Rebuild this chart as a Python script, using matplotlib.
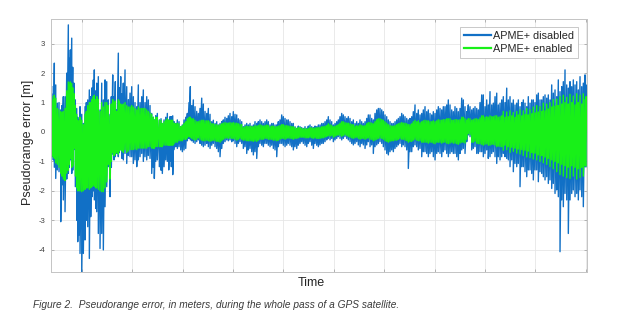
import numpy as np
import matplotlib
matplotlib.use("Agg")
import matplotlib.pyplot as plt

plt.rcParams['font.family'] = ['Liberation Sans', 'DejaVu Sans']
plt.rcParams['axes.unicode_minus'] = False

# time (epochs) and per-epoch upper / lower excursions of the error traces [m]
t = [1.2, 2.8, 3.8, 5.2, 6.8, 8.5, 10.2, 11.5, 12.8, 14.5,
     16.2, 17.8, 18.8, 19.8, 21.2, 22.2, 23.5, 24.8, 26.2, 27.2,
     28.5, 29.5, 31.2, 32.8, 34.5, 35.8, 37.2, 38.8, 40.2, 41.5,
     42.8, 43.8, 45.2, 46.2, 47.8, 49.5, 51.2, 52.8, 54.5, 56.2,
     57.8, 59.5, 60.8, 62.2, 63.5, 64.8, 66.2, 67.8, 68.8, 70.2,
     71.5, 72.8, 74.5, 76.2, 77.8, 79.5, 81.2, 82.8, 84.5, 86.2,
     87.8, 89.5, 91.2, 92.8, 94.5, 96.2, 97.8, 99.5, 101.2, 102.8,
     103.8, 105.2, 106.8, 108.8, 110.5, 111.8, 113.5, 115.2, 116.8, 118.2,
     119.5, 120.8, 122.2, 123.5, 125.2, 126.8, 128.5, 130.2, 131.8, 133.5,
     135.2, 136.8, 138.5, 139.8, 141.2, 142.8, 144.5, 146.2, 147.8, 149.5,
     151.2, 152.8, 154.5, 156.2, 157.8, 159.5, 161.2, 162.8, 164.5, 166.2,
     167.8, 169.5, 171.2, 172.8, 174.5, 176.2, 177.8, 179.5, 181.2, 182.8,
     184.5, 186.2, 187.8, 189.5, 191.2, 192.8, 194.5, 196.2, 197.8, 199.5,
     201.2, 202.8, 204.5, 206.2, 207.8, 209.5, 211.2, 212.8, 214.5, 216.2,
     217.8, 219.5, 221.2, 222.8, 224.5, 226.2, 227.8, 229.5, 231.2, 232.8,
     234.5, 236.2, 237.8, 239.5, 241.2, 242.8, 244.5, 246.2, 247.8, 249.5,
     251.2, 252.8, 254.5, 256.2, 257.8, 259.5, 261.2, 262.8, 264.5, 266.2,
     267.8, 269.5, 271.2, 272.8, 274.5, 276.2, 277.8, 279.5, 281.2, 282.8,
     284.5, 286.2, 287.8, 289.5, 291.2, 292.8, 294.5, 296.2, 297.8, 299.5,
     301.2, 302.8, 304.5, 306.2, 307.8, 309.5, 311.2, 312.8, 314.5, 316.2,
     317.8, 319.5, 321.2, 322.8, 324.5, 326.2, 327.8, 329.5, 331.2, 332.8,
     334.5, 336.2, 337.8, 339.5, 341.2, 342.8, 344.5, 346.2, 347.8, 349.5,
     351.2, 352.8, 354.5, 356.2, 357.8, 359.5, 361.2, 362.8, 364.5, 366.2,
     367.8, 369.5, 371.2, 372.8, 374.5, 376.2, 377.8, 379.5, 381.2, 382.8,
     384.5, 386.2, 387.8, 389.5, 391.2, 392.8, 394.5, 396.2, 397.8, 399.5,
     401.2, 402.8, 404.5, 406.2, 407.8, 409.5, 411.2, 412.8, 414.5, 416.2,
     417.8, 419.5, 421.2, 422.8, 424.5, 426.2, 427.8, 429.5, 431.2, 432.8,
     434.5, 436.2, 437.8, 439.5, 441.2, 442.8, 444.5, 446.2, 447.8, 449.5,
     451.2, 452.8, 454.5, 456.2, 457.8, 459.5, 461.2, 462.8, 464.5, 466.2,
     467.8, 469.5, 471.2, 472.8, 474.5, 476.2, 477.8, 479.5, 481.2, 482.8,
     484.5, 486.2, 487.8, 489.5, 491.2, 492.8, 494.5, 496.2, 497.8, 499.5,
     501.2, 502.8, 504.5, 506.2, 507.8, 509.5, 511.2, 512.8, 514.5, 516.2,
     517.8, 519.5, 521.2, 522.8, 524.5, 526.2, 527.8, 529.5, 531.2, 532.8,
     534.5, 535.5]

disabled_hi = [1.54, 1.30, 2.34, 1.60, 0.98, 1.00, 0.75, 0.90, 1.20, 1.20,
               2.00, 3.64, 2.50, 2.79, 3.19, 2.20, 1.66, 1.09, 0.80, 0.50,
               0.40, 0.86, 0.60, 0.29, 0.86, 1.00, 1.09, 1.43, 1.20, 1.50,
               1.77, 2.11, 1.40, 1.66, 1.88, 0.75, 1.66, 1.09, 1.77, 1.71,
               1.09, 0.60, 1.20, 1.94, 1.20, 1.71, 0.75, 2.68, 1.50, 1.88,
               1.30, 1.66, 2.11, 1.54, 1.10, 1.32, 1.54, 1.20, 1.00, 0.86,
               1.60, 1.00, 1.20, 1.43, 1.00, 1.20, 1.09, 0.90, 0.63, 0.50,
               0.41, 0.55, 0.63, 0.41, 0.45, 0.29, 0.41, 0.50, 0.63, 0.41,
               0.52, 0.52, 0.55, 0.35, 0.29, 0.41, 0.35, 0.18, 0.24, 0.41,
               0.50, 0.63, 1.00, 1.54, 0.90, 1.09, 0.86, 0.70, 0.63, 0.80,
               1.15, 0.95, 0.70, 0.63, 0.80, 0.60, 0.35, 0.40, 0.29, 0.35,
               0.24, 0.29, 0.35, 0.41, 0.50, 0.46, 0.55, 0.63, 0.52, 0.69,
               0.60, 0.58, 0.45, 0.41, 0.35, 0.18, 0.24, 0.29, 0.24, 0.29,
               0.20, 0.24, 0.35, 0.29, 0.35, 0.41, 0.35, 0.29, 0.35, 0.41,
               0.35, 0.24, 0.29, 0.29, 0.24, 0.24, 0.35, 0.41, 0.58, 0.52,
               0.46, 0.41, 0.41, 0.35, 0.29, 0.29, 0.18, 0.12, 0.20, 0.18,
               0.15, 0.12, 0.18, 0.12, 0.20, 0.24, 0.18, 0.15, 0.20, 0.18,
               0.24, 0.24, 0.29, 0.29, 0.35, 0.41, 0.52, 0.41, 0.35, 0.24,
               0.29, 0.35, 0.41, 0.52, 0.63, 0.58, 0.52, 0.46, 0.52, 0.46,
               0.35, 0.41, 0.29, 0.35, 0.29, 0.41, 0.35, 0.29, 0.35, 0.46,
               0.58, 0.58, 0.46, 0.41, 0.63, 0.75, 0.80, 0.80, 0.75, 0.69,
               0.58, 0.52, 0.41, 0.35, 0.29, 0.29, 0.35, 0.41, 0.46, 0.52,
               0.63, 0.58, 0.52, 0.46, 0.41, 0.46, 0.52, 0.69, 0.92, 0.63,
               0.75, 0.58, 0.63, 0.75, 0.86, 0.69, 0.75, 0.63, 0.58, 0.69,
               0.63, 0.75, 0.86, 0.80, 0.75, 0.86, 0.86, 0.92, 1.09, 0.92,
               0.75, 0.69, 0.86, 0.80, 0.69, 0.80, 1.15, 1.09, 0.86, 0.69,
               0.92, 0.86, 0.75, 0.80, 0.86, 0.80, 0.75, 1.00, 1.26, 1.26,
               0.86, 1.09, 0.92, 1.37, 0.92, 0.98, 1.20, 1.32, 0.92, 0.98,
               1.09, 1.20, 1.00, 1.49, 1.09, 1.20, 0.98, 1.09, 0.92, 0.98,
               1.09, 0.86, 1.00, 1.09, 0.98, 0.86, 1.20, 0.98, 1.09, 1.09,
               1.00, 1.26, 1.32, 1.09, 1.09, 1.20, 1.26, 1.15, 1.26, 1.09,
               1.60, 1.32, 1.43, 1.20, 1.77, 1.37, 1.54, 1.71, 2.11, 1.60,
               1.49, 1.71, 1.54, 1.77, 1.60, 1.71, 1.43, 1.88, 1.54, 1.66,
               1.94, 1.60]

disabled_lo = [-0.84, -0.95, -1.20, -1.58, -1.29, -1.35, -3.05, -1.80, -2.31, -2.71,
               -1.60, -1.41, -1.20, -0.95, -1.41, -1.30, -0.60, -1.86, -3.00, -3.73,
               -3.50, -4.13, -4.75, -4.13, -3.67, -3.00, -3.22, -4.30, -2.88, -2.20,
               -2.00, -2.31, -2.60, -2.71, -3.45, -3.96, -3.45, -4.01, -2.54, -1.86,
               -1.18, -2.20, -1.20, -0.75, -0.95, -0.84, -0.73, -0.84, -0.70, -0.61,
               -0.90, -0.95, -0.73, -1.07, -0.80, -0.84, -0.84, -1.07, -0.95, -1.18,
               -0.95, -0.84, -0.73, -1.00, -0.84, -0.95, -0.80, -0.90, -1.41, -1.20,
               -1.58, -1.00, -0.95, -1.18, -1.30, -1.41, -1.18, -0.95, -1.00, -1.29,
               -1.00, -1.18, -1.45, -0.60, -0.50, -0.56, -0.50, -0.61, -0.67, -0.61,
               -0.56, -0.30, -0.22, -0.27, -0.30, -0.35, -0.39, -0.33, -0.27, -0.39,
               -0.45, -0.50, -0.45, -0.39, -0.50, -0.56, -0.45, -0.39, -0.50, -0.56,
               -0.67, -0.84, -0.56, -0.39, -0.33, -0.27, -0.30, -0.27, -0.33, -0.30,
               -0.39, -0.50, -0.39, -0.33, -0.39, -0.56, -0.50, -0.73, -0.61, -0.56,
               -0.67, -0.78, -0.67, -0.90, -0.50, -0.39, -0.45, -0.50, -0.39, -0.39,
               -0.45, -0.50, -0.45, -0.56, -0.61, -0.84, -0.50, -0.39, -0.39, -0.45,
               -0.50, -0.45, -0.39, -0.45, -0.50, -0.61, -0.50, -0.56, -0.45, -0.39,
               -0.33, -0.39, -0.45, -0.50, -0.39, -0.33, -0.45, -0.56, -0.39, -0.45,
               -0.50, -0.44, -0.39, -0.39, -0.33, -0.27, -0.22, -0.27, -0.22, -0.33,
               -0.27, -0.22, -0.16, -0.22, -0.27, -0.22, -0.16, -0.22, -0.27, -0.33,
               -0.39, -0.44, -0.39, -0.33, -0.44, -0.50, -0.39, -0.44, -0.56, -0.44,
               -0.33, -0.50, -0.44, -0.73, -0.50, -0.44, -0.39, -0.33, -0.39, -0.50,
               -0.61, -0.73, -0.78, -0.67, -0.61, -0.67, -0.56, -0.50, -0.44, -0.39,
               -0.50, -0.44, -0.50, -0.61, -1.24, -0.67, -0.67, -0.50, -0.44, -0.50,
               -0.61, -0.56, -0.84, -0.67, -0.67, -0.73, -0.84, -0.73, -0.67, -0.84,
               -0.95, -0.73, -0.67, -0.73, -0.84, -0.67, -0.61, -0.73, -0.84, -0.73,
               -0.67, -0.73, -0.73, -0.84, -0.95, -0.73, -0.61, -0.56, -0.73, -0.33,
               -0.10, -0.16, -0.61, -0.56, -0.50, -0.73, -0.73, -0.67, -0.67, -0.84,
               -0.73, -0.61, -0.90, -0.84, -0.73, -0.67, -0.84, -1.07, -0.84, -0.95,
               -0.84, -0.73, -0.84, -0.90, -0.95, -1.18, -0.95, -1.35, -1.07, -1.18,
               -1.07, -1.86, -1.18, -1.18, -1.35, -1.52, -1.29, -1.29, -1.41, -1.63,
               -1.29, -1.29, -1.69, -1.35, -1.41, -1.52, -1.63, -1.52, -1.75, -1.63,
               -1.92, -1.75, -2.09, -1.97, -2.20, -4.07, -2.31, -2.54, -2.09, -2.31,
               -3.45, -2.31, -2.09, -1.97, -2.20, -2.09, -2.31, -1.97, -2.20, -2.54,
               -1.18, -1.18]

enabled_hi = [1.20, 1.10, 1.25, 1.15, 0.80, 0.75, 0.70, 0.65, 0.70, 0.80,
              1.40, 1.70, 1.60, 1.70, 1.65, 1.50, 1.30, 0.90, 0.60, 0.40,
              0.35, 0.50, 0.40, 0.25, 0.60, 0.70, 0.90, 1.00, 1.00, 1.10,
              1.20, 1.25, 1.10, 1.20, 1.10, 0.70, 1.00, 0.85, 1.00, 1.00,
              0.90, 0.55, 0.95, 1.10, 1.00, 1.05, 0.70, 1.10, 1.05, 0.95,
              0.90, 0.95, 1.00, 0.90, 0.85, 0.85, 0.90, 0.85, 0.80, 0.75,
              0.85, 0.80, 0.80, 0.80, 0.80, 0.75, 0.70, 0.65, 0.60, 0.50,
              0.40, 0.50, 0.50, 0.40, 0.40, 0.28, 0.35, 0.40, 0.45, 0.40,
              0.40, 0.40, 0.40, 0.30, 0.28, 0.30, 0.28, 0.18, 0.22, 0.30,
              0.35, 0.45, 0.50, 0.50, 0.45, 0.45, 0.40, 0.35, 0.35, 0.38,
              0.40, 0.40, 0.38, 0.38, 0.38, 0.35, 0.28, 0.28, 0.25, 0.25,
              0.22, 0.25, 0.28, 0.30, 0.32, 0.30, 0.30, 0.32, 0.30, 0.32,
              0.30, 0.30, 0.28, 0.26, 0.25, 0.15, 0.18, 0.20, 0.18, 0.20,
              0.18, 0.18, 0.22, 0.20, 0.22, 0.25, 0.22, 0.20, 0.22, 0.24,
              0.22, 0.18, 0.20, 0.20, 0.18, 0.18, 0.20, 0.22, 0.25, 0.25,
              0.22, 0.22, 0.20, 0.20, 0.18, 0.18, 0.15, 0.12, 0.15, 0.15,
              0.12, 0.10, 0.12, 0.10, 0.12, 0.15, 0.14, 0.12, 0.14, 0.14,
              0.15, 0.15, 0.18, 0.18, 0.20, 0.22, 0.28, 0.25, 0.22, 0.18,
              0.20, 0.22, 0.25, 0.30, 0.35, 0.35, 0.32, 0.30, 0.30, 0.28,
              0.25, 0.25, 0.20, 0.22, 0.20, 0.25, 0.22, 0.20, 0.22, 0.28,
              0.32, 0.32, 0.30, 0.28, 0.35, 0.42, 0.45, 0.45, 0.42, 0.40,
              0.35, 0.30, 0.25, 0.22, 0.20, 0.20, 0.22, 0.25, 0.28, 0.30,
              0.32, 0.30, 0.30, 0.28, 0.25, 0.25, 0.28, 0.35, 0.40, 0.35,
              0.38, 0.32, 0.35, 0.38, 0.40, 0.38, 0.38, 0.35, 0.35, 0.38,
              0.35, 0.38, 0.42, 0.40, 0.40, 0.42, 0.42, 0.45, 0.45, 0.45,
              0.40, 0.40, 0.42, 0.42, 0.40, 0.42, 0.50, 0.50, 0.45, 0.40,
              0.45, 0.45, 0.40, 0.42, 0.45, 0.45, 0.42, 0.48, 0.55, 0.55,
              0.50, 0.52, 0.50, 0.55, 0.52, 0.52, 0.55, 0.55, 0.50, 0.52,
              0.55, 0.70, 0.50, 0.68, 0.52, 0.72, 0.55, 0.66, 0.50, 0.70,
              0.58, 0.75, 0.55, 0.72, 0.60, 0.80, 0.58, 0.76, 0.62, 0.85,
              0.65, 0.90, 0.68, 0.86, 0.70, 0.98, 0.72, 0.95, 0.78, 1.00,
              0.85, 1.10, 0.88, 1.12, 0.90, 1.20, 0.95, 1.25, 1.00, 1.18,
              0.95, 1.28, 1.00, 1.22, 0.92, 1.30, 1.00, 1.25, 0.95, 1.30,
              1.10, 1.20]

enabled_lo = [-0.80, -0.85, -0.90, -1.05, -1.10, -1.20, -1.40, -1.50, -1.60, -1.65,
              -1.40, -1.30, -1.10, -0.90, -1.20, -1.15, -0.55, -1.50, -1.90, -2.00,
              -2.00, -2.00, -2.03, -2.00, -1.95, -1.90, -1.90, -1.95, -1.90, -1.85,
              -1.80, -1.85, -1.90, -1.90, -1.95, -2.00, -2.03, -2.03, -1.90, -1.70,
              -1.10, -1.60, -1.00, -0.70, -0.80, -0.75, -0.70, -0.75, -0.65, -0.60,
              -0.65, -0.70, -0.60, -0.70, -0.65, -0.60, -0.60, -0.60, -0.58, -0.60,
              -0.55, -0.55, -0.55, -0.55, -0.55, -0.55, -0.50, -0.50, -0.55, -0.55,
              -0.55, -0.50, -0.50, -0.50, -0.50, -0.50, -0.45, -0.45, -0.45, -0.45,
              -0.45, -0.45, -0.45, -0.40, -0.35, -0.35, -0.30, -0.30, -0.30, -0.25,
              -0.25, -0.20, -0.15, -0.18, -0.22, -0.25, -0.28, -0.25, -0.20, -0.25,
              -0.28, -0.30, -0.30, -0.28, -0.30, -0.32, -0.30, -0.28, -0.30, -0.32,
              -0.32, -0.35, -0.30, -0.25, -0.22, -0.20, -0.22, -0.20, -0.22, -0.22,
              -0.25, -0.28, -0.25, -0.22, -0.25, -0.28, -0.28, -0.30, -0.30, -0.30,
              -0.30, -0.32, -0.30, -0.32, -0.28, -0.25, -0.25, -0.25, -0.22, -0.22,
              -0.25, -0.25, -0.25, -0.28, -0.28, -0.30, -0.28, -0.25, -0.22, -0.22,
              -0.25, -0.22, -0.20, -0.22, -0.22, -0.25, -0.22, -0.22, -0.20, -0.18,
              -0.18, -0.18, -0.20, -0.20, -0.20, -0.18, -0.20, -0.22, -0.20, -0.22,
              -0.22, -0.22, -0.20, -0.20, -0.18, -0.15, -0.12, -0.15, -0.12, -0.18,
              -0.15, -0.12, -0.10, -0.12, -0.15, -0.12, -0.10, -0.12, -0.15, -0.18,
              -0.20, -0.22, -0.20, -0.18, -0.22, -0.25, -0.22, -0.22, -0.25, -0.22,
              -0.20, -0.25, -0.25, -0.30, -0.28, -0.25, -0.22, -0.20, -0.22, -0.25,
              -0.30, -0.32, -0.35, -0.32, -0.30, -0.30, -0.28, -0.28, -0.25, -0.22,
              -0.25, -0.25, -0.28, -0.30, -0.35, -0.32, -0.32, -0.28, -0.25, -0.28,
              -0.30, -0.30, -0.35, -0.35, -0.35, -0.35, -0.38, -0.35, -0.35, -0.38,
              -0.40, -0.35, -0.35, -0.35, -0.38, -0.35, -0.35, -0.38, -0.40, -0.38,
              -0.35, -0.38, -0.38, -0.40, -0.42, -0.38, -0.35, -0.35, -0.38, -0.25,
              -0.05, -0.10, -0.35, -0.35, -0.32, -0.38, -0.40, -0.40, -0.42, -0.45,
              -0.42, -0.40, -0.45, -0.45, -0.42, -0.42, -0.45, -0.50, -0.48, -0.50,
              -0.50, -0.62, -0.45, -0.60, -0.50, -0.70, -0.52, -0.66, -0.55, -0.72,
              -0.58, -0.75, -0.60, -0.80, -0.62, -0.85, -0.65, -0.88, -0.70, -0.92,
              -0.72, -0.95, -0.78, -1.00, -0.80, -1.05, -0.85, -1.10, -0.90, -1.18,
              -0.95, -1.25, -1.00, -1.35, -1.05, -1.45, -1.10, -1.50, -1.15, -1.55,
              -1.20, -1.58, -1.15, -1.50, -1.20, -1.60, -1.25, -1.55, -1.20, -1.50,
              -1.15, -1.15]

series_labels = ['APME+ disabled', 'APME+ enabled']
y_ticks = [-4, -3, -2, -1, 0, 1, 2, 3]
caption = 'Figure 2.  Pseudorange error, in meters, during the whole pass of a GPS satellite.'

# each epoch swings from its upper to its lower value
tt = np.repeat(t, 2)
y_dis = np.column_stack([disabled_hi, disabled_lo]).ravel()
y_en = np.column_stack([enabled_hi, enabled_lo]).ravel()

fig = plt.figure(figsize=(6.2, 3.33), dpi=100)
ax = fig.add_axes([0.0815, 0.1832, 0.8645, 0.7606])

ax.plot(tt, y_dis, color='#1170c6', lw=1.0, label=series_labels[0])
ax.plot(tt, y_en, color='#18f018', lw=1.0, label=series_labels[1])

ax.set_xlim(0, 536)
ax.set_ylim(-4.76, 3.85)
ax.set_xticks(31.2 + 50.4 * np.arange(11))
ax.set_xticklabels([])
ax.set_yticks(y_ticks)
ax.tick_params(direction='in', length=2.5, width=0.6, color='#a8a8a8',
               labelsize=5.5, labelcolor='#404040', pad=4,
               top=True, right=True)
ax.grid(True, color='#e6e6e6', lw=0.6)
ax.set_axisbelow(True)
for s in ax.spines.values():
    s.set_color('#c4c4c4')
    s.set_linewidth(0.7)

ax.set_ylabel('Pseudorange error [m]', fontsize=9, color='#262626')
ax.yaxis.set_label_coords(-0.031, 0.511)
ax.set_xlabel('Time', fontsize=9, color='#262626')
ax.xaxis.set_label_coords(0.486, -0.02)

leg = ax.legend(loc='upper right', bbox_to_anchor=(0.984, 0.967), borderaxespad=0,
                fontsize=7.8, fancybox=False, handlelength=2.5, handletextpad=0.2,
                borderpad=0.35, labelspacing=0.3, framealpha=1)
leg.get_frame().set_edgecolor('#c0c0c0')
leg.get_frame().set_linewidth(0.6)
for ln in leg.get_lines():
    ln.set_linewidth(1.6)
for tx in leg.get_texts():
    tx.set_color('#262626')

fig.text(33 / 620, 1 - 305 / 333, caption, fontsize=7.3, style='italic',
         color='#3a3a3a', va='center', ha='left')

fig.savefig('out.png', dpi=100)
